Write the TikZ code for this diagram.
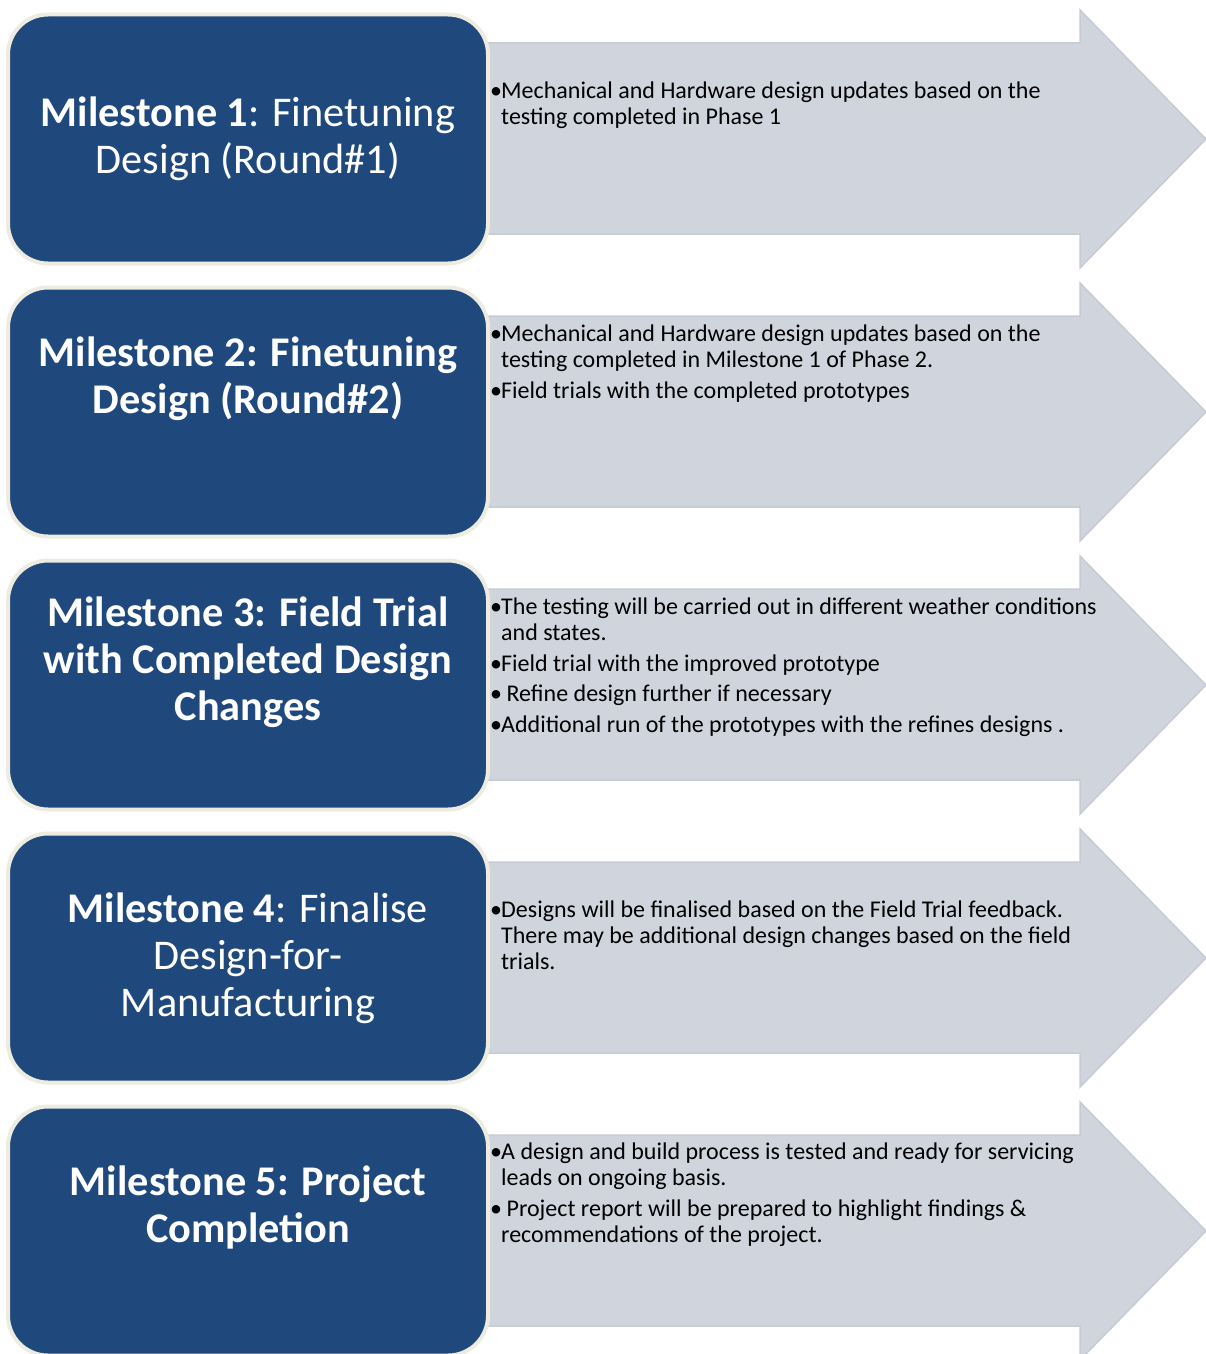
\documentclass[tikz,border=0pt]{standalone}
\usepackage{fontspec}
\setmainfont{Carlito}
\usetikzlibrary{positioning}
\definecolor{msblue}{RGB}{31,73,125}
\definecolor{mscream}{RGB}{238,236,225}
\definecolor{arrowgray}{RGB}{208,212,221}
\definecolor{arrowedge}{RGB}{199,203,214}
\tikzset{
    mbox/.style={draw=mscream, line width=4pt, fill=msblue, rounded corners=40pt,
        minimum width=480pt, minimum height=249pt, inner sep=0},
    mtitle/.style={text=white, align=center, inner sep=0,
        font=\fontsize{42.3}{47}\selectfont},
    mtext/.style={align=left, anchor=north west, inner sep=0,
        font=\fontsize{24}{26}\selectfont},
    phase arrow/.style={fill=arrowgray, draw=arrowedge, line width=1.5pt, line join=miter}
}
\newcommand{\bul}{\makebox[11pt][l]{\textbullet}}
\newcommand{\ind}{\hspace*{11pt}}

\begin{document}
\begin{tikzpicture}[x=1pt,y=-1pt]
    \useasboundingbox (0,0) rectangle (1206,1354);

    % big grey arrows behind the boxes
    \foreach \r in {0,...,4}{
        \begin{scope}[shift={(0,273*\r)}]
            \draw[phase arrow] (485,43) -- (1080,43) -- (1080,10) -- (1206,139)
                -- (1080,268) -- (1080,234) -- (485,234) -- cycle;
        \end{scope}
    }

    % milestone boxes
    \node[mbox] (b1) at (248,139) {};
    \node[mbox] (b2) at (248,412) {};
    \node[mbox] (b3) at (248,685) {};
    \node[mbox] (b4) at (248,958) {};
    \node[mbox] (b5) at (248,1231) {};

    \node[mtitle] (t1) at (248,139) {{\bfseries Milestone 1}: Finetuning\\Design (Round\#1)};
    \node[mtitle, font=\fontsize{42.3}{47}\selectfont\bfseries] (t2) at (248,379)
        {Milestone 2: Finetuning\\Design (Round\#2)};
    \node[mtitle, font=\fontsize{42.3}{47}\selectfont\bfseries] (t3) at (248,662)
        {Milestone 3: Field Trial\\with Completed Design\\Changes};
    \node[mtitle] (t4) at (248,958) {{\bfseries Milestone 4}: Finalise\\Design-for-\\Manufacturing};
    \node[mtitle, font=\fontsize{42.3}{47}\selectfont\bfseries] (t5) at (248,1207)
        {Milestone 5: Project\\Completion};

    % details on the arrows
    \node[mtext] (d1) at (490,82) {\bul Mechanical and Hardware design updates based on the\\
        \ind testing completed in Phase 1};
    \node[mtext] (d2) at (490,325) {\bul Mechanical and Hardware design updates based on the\\
        \ind testing completed in Milestone 1 of Phase 2.\\[5pt]
        \bul Field trials with the completed prototypes};
    \node[mtext] (d3) at (490,598) {\bul The testing will be carried out in different weather conditions\\
        \ind and states.\\[5pt]
        \bul Field trial with the improved prototype\\[4pt]
        \bul{} Refine design further if necessary\\[5pt]
        \bul Additional run of the prototypes with the refines designs .};
    \node[mtext] (d4) at (490,901) {\bul Designs will be finalised based on the Field Trial feedback.\\
        \ind There may be additional design changes based on the field\\
        \ind trials.};
    \node[mtext] (d5) at (490,1143) {\bul A design and build process is tested and ready for servicing\\
        \ind leads on ongoing basis.\\[5pt]
        \bul{} Project report will be prepared to highlight findings \&\\
        \ind recommendations of the project.};
\end{tikzpicture}
\end{document}
